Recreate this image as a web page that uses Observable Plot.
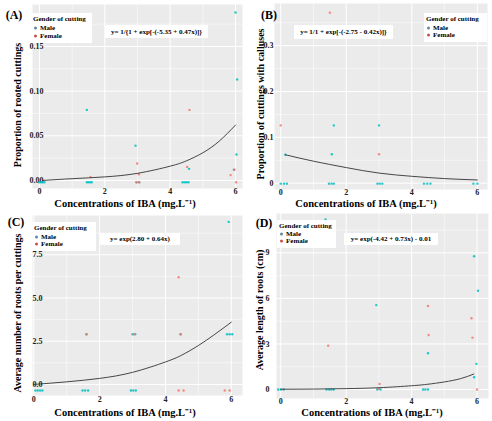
<!DOCTYPE html>
<html><head><meta charset="utf-8">
<script src="https://cdn.jsdelivr.net/npm/d3@7"></script>
<script src="https://cdn.jsdelivr.net/npm/@observablehq/plot@0.6"></script>
<style>
body{margin:0;background:#fff;font-family:'Liberation Serif','Times New Roman',Times,serif;}
#grid{position:relative;width:492px;height:421px;overflow:hidden;}
.cell{position:absolute;width:246px;}
.cell svg{position:absolute;left:0;top:0;font-family:'Liberation Serif','Times New Roman',Times,serif !important;}
.cell svg text{font-family:'Liberation Serif','Times New Roman',Times,serif;}
.ov{position:absolute;font-weight:bold;color:#000;white-space:nowrap;line-height:1;}
.tag{font-size:12px;transform:translate(-50%,-50%);}
.legend{position:absolute;background:#fff;}
.legend .t{position:absolute;left:2px;font-size:7px;font-weight:bold;transform:translateY(-50%);line-height:1;white-space:nowrap;}
.legend .i{position:absolute;left:9px;font-size:7px;font-weight:bold;transform:translateY(-50%);line-height:1;white-space:nowrap;}
.legend .d{position:absolute;left:3px;width:3px;height:3px;border-radius:50%;transform:translateY(-50%);}
.eq{position:absolute;background:#fff;font-size:7px;font-weight:bold;display:flex;align-items:center;justify-content:center;white-space:nowrap;}
.xt{font-size:10.5px;transform:translate(-50%,-50%);}
.yt{font-size:10px;transform:translate(-50%,-50%) rotate(-90deg);}
</style></head>
<body><div id="grid"></div>
<script>
const xTicks = [0, 2, 4, 6];
const xMinor = [1, 3, 5];
const genders = ["Male", "Female"];
const legendTitle = "Gender of cutting";
const xTitle = "Concentrations of IBA (mg.L⁻¹)";

// Panel A
const aMale = [[0,-0.002],[0.05,-0.002],[0.1,-0.002],[0.15,-0.002],[1.45,0.079],[1.45,-0.002],[1.5,-0.002],[1.55,-0.002],[1.6,-0.002],[2.94,0.039],[2.97,-0.002],[3.05,-0.002],[4.38,-0.002],[4.44,-0.002],[4.5,-0.002],[4.56,-0.002],[4.58,0.013],[5.95,0.012],[6.0,0.188],[6.05,0.113],[6.03,0.029]];
const aFemale = [[1.56,0.004],[2.99,0.019],[3.04,0.007],[2.97,-0.002],[3.05,-0.002],[4.52,0.015],[4.59,0.079],[5.85,0.006],[5.97,0.012],[6.02,-0.002]];
const aCurve = [[0.1,0.0],[1,0.002],[2,0.004],[3,0.008],[4,0.016],[4.5,0.022],[5,0.031],[5.5,0.044],[6,0.062]];
const aYTicks = [0, 0.05, 0.10, 0.15];
const aEq = "y= 1/{1 + exp[-(-5.35 + 0.47x)]}";
const aYTitle = "Proportion of rooted cuttings";

// Panel B
const bMale = [[0,-0.001],[0.1,-0.001],[0.19,-0.001],[0.14,0.062],[1.47,-0.001],[1.55,-0.001],[1.62,-0.001],[1.56,0.063],[1.62,0.126],[2.95,-0.001],[3.02,-0.001],[3.1,-0.001],[3.0,0.126],[4.37,-0.001],[4.47,-0.001],[4.57,-0.001],[5.88,-0.001],[6.0,-0.001]];
const bFemale = [[0,0.126],[1.5,0.372],[3.0,0.063]];
const bCurve = [[0.14,0.062],[1,0.048],[2,0.034],[3,0.022],[4,0.015],[5,0.010],[6,0.007]];
const bYTicks = [0, 0.1, 0.2, 0.3];
const bEq = "y= 1/1 + exp[-(-2.75 - 0.42x)]}";
const bYTitle = "Proportion of cuttings with calluses";

// Panel C
const cMale = [[0.05,-0.35],[0.12,-0.35],[0.19,-0.35],[0.26,-0.35],[1.48,-0.35],[1.56,-0.35],[1.65,-0.35],[2.95,-0.35],[3.02,-0.35],[3.1,-0.35],[1.6,2.9],[3.0,2.9],[3.08,2.9],[4.46,2.9],[5.87,2.9],[5.95,2.9],[6.03,2.9],[5.92,9.4]];
const cFemale = [[1.6,2.9],[3.04,2.9],[4.46,2.9],[4.4,6.2],[4.4,-0.35],[4.55,-0.35],[5.8,-0.35],[5.95,-0.35]];
const cCurve = [[0,0],[1,0.15],[2,0.35],[3,0.7],[4,1.3],[4.5,1.7],[5,2.25],[5.5,2.9],[6,3.6]];
const cYTicks = [0, 2.5, 5.0, 7.5];
const cEq = "y= exp(2.80 + 0.64x)";
const cYTitle = "Average number of roots per cuttings";

// Panel D
const dMale = [[-0.08,0],[0,0],[0.09,0],[1.4,0],[1.48,0],[1.55,0],[1.62,0],[2.95,0],[3.05,0],[4.35,0],[4.42,0],[4.5,0],[1.37,11.2],[2.92,5.56],[4.5,2.39],[5.91,8.78],[6.03,6.5],[5.98,1.69],[5.91,0.81]];
const dFemale = [[1.45,2.89],[3.02,0.37],[3.0,0.05],[4.5,5.5],[4.52,3.59],[5.83,4.69],[5.86,3.42],[6.0,0]];
const dCurve = [[0,0.02],[1,0.03],[2,0.06],[3,0.12],[4,0.25],[4.5,0.35],[5,0.5],[5.5,0.72],[5.9,1.02]];
const dYTicks = [0, 3, 6, 9];
const dEq = "y= exp(-4.42 + 0.73x) - 0.01";
const dYTitle = "Average length of roots (cm)";

const pointColors = {Male: "#00BFC4", Female: "#F8766D"};
const legendColors = {Male: "#5f88aa", Female: "#c2504f"};
const serif = "'Liberation Serif','Times New Roman',Times,serif";

const panels = [
  {tag:"(A)", left:0, top:0, h:210, ml:32, mr:4, mt:4, mb:22, xd:[-0.214,6.214], yd:[-0.009,0.197],
   male:aMale, female:aFemale, curve:aCurve, yTicks:aYTicks, yMinor:[0.025,0.075,0.125,0.175], fmt:d3.format(".2f"), ydx:11, xpad:0,
   eq:aEq, yTitle:aYTitle, tagC:[14,15], leg:[31,13,61,30], eqB:[105,25,103,13], xtC:[125,204], ytC:[18,105]},
  {tag:"(B)", left:246, top:0, h:210, ml:28, mr:5, mt:3, mb:21, xd:[-0.19,6.31], yd:[-0.0138,0.392],
   male:bMale, female:bFemale, curve:bCurve, yTicks:bYTicks, yMinor:[0.05,0.15,0.25,0.35], fmt:d=>d===0?"0":d.toFixed(1), ydx:-1, xpad:0,
   eq:bEq, yTitle:bYTitle, tagC:[23,15], leg:[178,13,63,29], eqB:[48,25,99,14], xtC:[120,204], ytC:[15,104]},
  {tag:"(C)", left:0, top:210, h:211, ml:32, mr:4, mt:5, mb:26, xd:[-0.04,6.34], yd:[-0.64,9.77],
   male:cMale, female:cFemale, curve:cCurve, yTicks:cYTicks, yMinor:[1.25,3.75,6.25,8.75], fmt:d3.format(".1f"), ydx:10, xpad:1,
   eq:cEq, yTitle:cYTitle, tagC:[16,12], leg:[32,12,64,29], eqB:[100,23,80,12], xtC:[125,203], ytC:[18,103]},
  {tag:"(D)", left:246, top:210, h:211, ml:30, mr:4, mt:3, mb:23, xd:[-0.13,6.35], yd:[-0.59,11.59],
   male:dMale, female:dFemale, curve:dCurve, yTicks:dYTicks, yMinor:[1.5,4.5,7.5,10.5], fmt:d3.format("d"), ydx:-7, xpad:0,
   eq:dEq, yTitle:dYTitle, tagC:[18,13], leg:[31,10,59,28], eqB:[98,23,94,12], xtC:[126,203], ytC:[14,100]}
];

const grid = document.getElementById("grid");

for (const p of panels) {
  const pts = [
    ...p.male.map(([x,y]) => ({x, y, g:"Male"})),
    ...p.female.map(([x,y]) => ({x, y, g:"Female"}))
  ];
  const line = p.curve.map(([x,y]) => ({x, y}));
  const svg = Plot.plot({
    width: 246, height: p.h,
    marginLeft: p.ml, marginRight: p.mr, marginTop: p.mt, marginBottom: p.mb,
    x: {domain: p.xd},
    y: {domain: p.yd},
    color: {domain: genders, range: genders.map(g => pointColors[g])},
    style: {fontFamily: serif, fontSize: "8px", fontWeight: "bold", background: "transparent", color: "#222"},
    marks: [
      Plot.frame({fill: "#ebebeb", stroke: null}),
      Plot.gridX({ticks: xMinor, stroke: "#fff", strokeOpacity: 1, strokeWidth: 0.5}),
      Plot.gridY({ticks: p.yMinor, stroke: "#fff", strokeOpacity: 1, strokeWidth: 0.5}),
      Plot.gridX({ticks: xTicks, stroke: "#fff", strokeOpacity: 1, strokeWidth: 1}),
      Plot.gridY({ticks: p.yTicks, stroke: "#fff", strokeOpacity: 1, strokeWidth: 1}),
      Plot.axisX({ticks: xTicks, tickSize: 0, tickPadding: p.xpad, tickFormat: d3.format("d"), label: null}),
      Plot.axisY({ticks: p.yTicks, tickSize: 0, tickPadding: 0, dx: p.ydx, tickFormat: p.fmt, label: null}),
      Plot.dot(pts, {x: "x", y: "y", fill: "g", r: 1.2, fillOpacity: 0.85}),
      Plot.line(line, {x: "x", y: "y", curve: "natural", stroke: "#333", strokeWidth: 0.9})
    ]
  });
  const cell = document.createElement("div");
  cell.className = "cell";
  cell.style.left = p.left + "px";
  cell.style.top = p.top + "px";
  cell.style.height = p.h + "px";
  cell.appendChild(svg);

  const tag = document.createElement("div");
  tag.className = "ov tag";
  tag.textContent = p.tag;
  tag.style.left = p.tagC[0] + "px"; tag.style.top = p.tagC[1] + "px";
  cell.appendChild(tag);

  const leg = document.createElement("div");
  leg.className = "legend";
  const [ll, lt, lw, lh] = p.leg;
  Object.assign(leg.style, {left: ll + "px", top: lt + "px", width: lw + "px", height: lh + "px"});
  const t = document.createElement("div");
  t.className = "t"; t.textContent = legendTitle; t.style.top = (lh * 0.2) + "px";
  leg.appendChild(t);
  genders.forEach((g, i) => {
    const cy = lh * (0.5 + i * 0.25);
    const d = document.createElement("div");
    d.className = "d"; d.style.top = cy + "px"; d.style.background = legendColors[g];
    const s = document.createElement("div");
    s.className = "i"; s.style.top = cy + "px"; s.textContent = g;
    leg.appendChild(d); leg.appendChild(s);
  });
  cell.appendChild(leg);

  const eq = document.createElement("div");
  eq.className = "eq";
  const [el, et, ew, eh] = p.eqB;
  Object.assign(eq.style, {left: el + "px", top: et + "px", width: ew + "px", height: eh + "px"});
  eq.textContent = p.eq;
  cell.appendChild(eq);

  const xt = document.createElement("div");
  xt.className = "ov xt"; xt.textContent = xTitle;
  xt.style.left = p.xtC[0] + "px"; xt.style.top = p.xtC[1] + "px";
  cell.appendChild(xt);

  const yt = document.createElement("div");
  yt.className = "ov yt"; yt.textContent = p.yTitle;
  yt.style.left = p.ytC[0] + "px"; yt.style.top = p.ytC[1] + "px";
  cell.appendChild(yt);

  grid.appendChild(cell);
}
</script>
</body></html>
